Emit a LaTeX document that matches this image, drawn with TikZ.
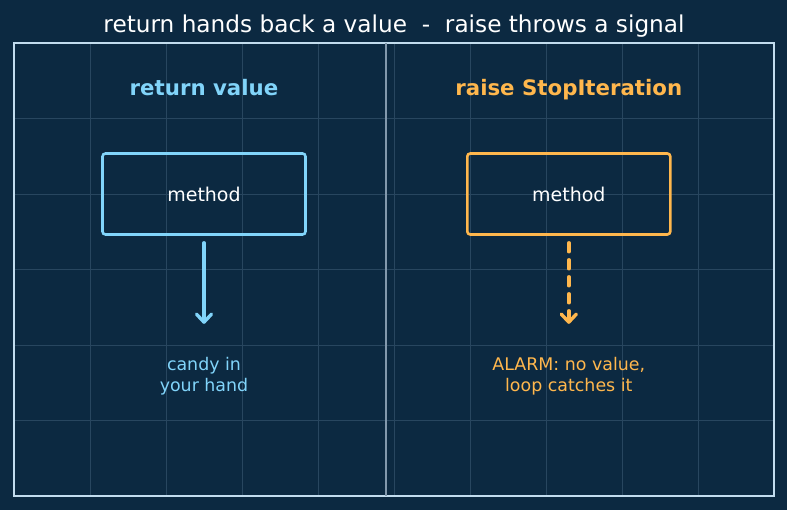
\documentclass[tikz,border=0pt]{standalone}
\usepackage{fontspec}
\setmainfont{DejaVu Sans}
\usetikzlibrary{arrows.meta,positioning}
\definecolor{navybg}{HTML}{0C2941}
\definecolor{gridline}{HTML}{28465F}
\definecolor{framecol}{HTML}{C2DCEE}
\definecolor{divcol}{HTML}{8298AC}
\definecolor{skyblue}{HTML}{81D4FA}
\definecolor{amber}{HTML}{FFB74D}

\begin{document}
\begin{tikzpicture}[x=76pt,y=75.5pt,
    methodbox/.style={draw,line width=2.6pt,rounded corners=3pt,minimum width=203pt,minimum height=81pt,text=white,font=\fontsize{19}{23}\selectfont},
    heading/.style={anchor=base,font=\bfseries\fontsize{21.3}{25}\selectfont},
    note/.style={align=center,font=\fontsize{17.4}{21}\selectfont},
    flow/.style={line width=3.4pt,line cap=round,-{Straight Barb[length=8pt,width=15pt,round]}}]
  % canvas and grid
  \useasboundingbox[fill=navybg] (-0.1842,-0.1854) rectangle (10.1711,6.5695);
  \foreach \gx in {1,...,9} \draw[gridline,line width=0.8pt] (\gx,0) -- (\gx,6);
  \foreach \gy in {1,...,5} \draw[gridline,line width=0.8pt] (0,\gy) -- (10,\gy);
  \draw[framecol,line width=1.8pt] (0,0) rectangle (10,6);
  \draw[divcol,line width=2pt] (4.9,0) -- (4.9,6);
  % title
  \node[white,anchor=base,font=\fontsize{23.2}{27}\selectfont] (title) at (5,6.135) {return hands back a value\ \ -\ \ raise throws a signal};
  % left side: return
  \node[heading,skyblue] (rethead) at (2.5,5.3) {return value};
  \node[methodbox,draw=skyblue] (retbox) at (2.5,4) {method};
  \node[note,skyblue] (retnote) at (2.5,1.585) {candy in\\your hand};
  \coordinate (retend) at (2.5,2.28);
  \draw[flow,skyblue,shorten <=7pt] (retbox) -- (retend);
  % right side: raise
  \node[heading,amber] (raisehead) at (7.3,5.3) {raise StopIteration};
  \node[methodbox,draw=amber] (raisebox) at (7.3,4) {method};
  \node[note,amber] (raisenote) at (7.3,1.585) {ALARM: no value,\\loop catches it};
  \coordinate (raiseend) at (7.3,2.28);
  \draw[flow,amber,dash pattern=on 9pt off 8pt,shorten <=7pt] (raisebox) -- (raiseend);
\end{tikzpicture}
\end{document}
